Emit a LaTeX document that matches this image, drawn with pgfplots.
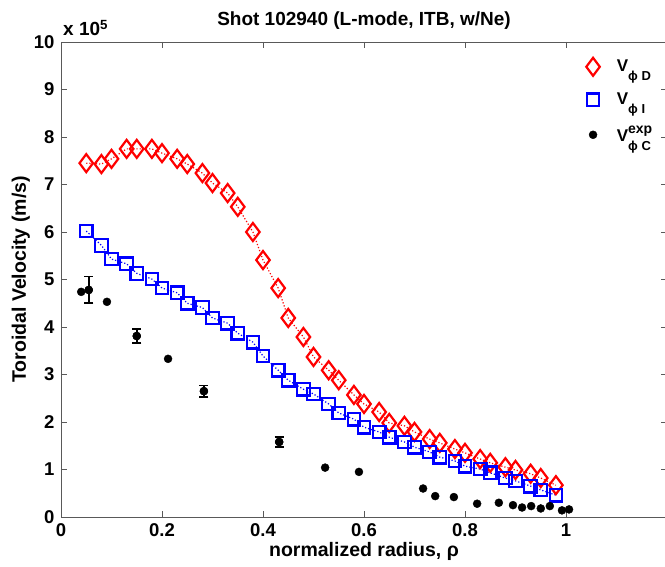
\documentclass[border=0pt]{standalone}
\usepackage{fontspec}
\setmainfont{Liberation Sans}
\usepackage{pgfplots}
\pgfplotsset{compat=1.18}
\newcommand{\Vsub}[1]{V\raisebox{-9pt}{\fontsize{13}{13}\selectfont #1}}
\newcommand{\Vsubsup}[2]{V\rlap{\raisebox{8pt}{\fontsize{14}{14}\selectfont #1}}\raisebox{-9pt}{\fontsize{13}{13}\selectfont #2}}
\pgfplotstableread{
x y
0.05 7.45
0.08 7.43
0.10 7.54
0.13 7.75
0.15 7.75
0.18 7.75
0.20 7.66
0.23 7.54
0.25 7.43
0.28 7.24
0.30 7.03
0.33 6.82
0.35 6.53
0.38 6.00
0.40 5.41
0.43 4.82
0.45 4.19
0.48 3.79
0.50 3.37
0.53 3.09
0.55 2.88
0.58 2.57
0.60 2.38
0.63 2.21
0.65 1.98
0.68 1.92
0.70 1.79
0.73 1.64
0.75 1.56
0.78 1.43
0.80 1.35
0.83 1.22
0.85 1.14
0.88 1.05
0.90 0.99
0.93 0.91
0.95 0.82
0.98 0.67
}\vd
\pgfplotstableread{
x y
0.05 6.02
0.08 5.72
0.10 5.43
0.13 5.33
0.15 5.13
0.18 5.01
0.20 4.82
0.23 4.72
0.25 4.50
0.28 4.41
0.30 4.19
0.33 4.08
0.35 3.87
0.38 3.68
0.40 3.39
0.43 3.09
0.45 2.88
0.48 2.69
0.50 2.59
0.53 2.38
0.55 2.19
0.58 2.06
0.60 1.89
0.63 1.79
0.65 1.68
0.68 1.58
0.70 1.47
0.73 1.37
0.75 1.26
0.78 1.18
0.80 1.07
0.83 1.01
0.85 0.93
0.88 0.82
0.90 0.76
0.93 0.65
0.95 0.57
0.98 0.46
}\vi
\pgfplotstableread{
x y
0.040 4.74
0.055 4.78
0.091 4.53
0.150 3.81
0.212 3.33
0.283 2.65
0.432 1.58
0.523 1.04
0.590 0.95
0.717 0.60
0.741 0.44
0.778 0.42
0.824 0.28
0.867 0.30
0.895 0.25
0.913 0.20
0.931 0.23
0.950 0.18
0.968 0.23
0.992 0.14
1.006 0.16
}\vc
\pgfplotstableread{
x y e
0.055 4.78 0.28
0.150 3.81 0.15
0.283 2.65 0.12
0.432 1.58 0.10
}\vce
\begin{document}
\fontsize{19}{22}\selectfont\bfseries
\begin{tikzpicture}
\begin{axis}[
  scale only axis, width=606pt, height=475pt,
  xmin=0, xmax=1.2, ymin=0, ymax=10,
  xtick={0,0.2,0.4,0.6,0.8,1}, xticklabels={0,0.2,0.4,0.6,0.8,1},
  ytick={0,1,...,10},
  tick align=inside, major tick length=6pt,
  axis line style={black!65, line width=0.9pt},
  every tick/.style={black!65, line width=0.9pt},
  /pgf/number format/assume math mode=true,
  tick label style={font=\fontsize{18.5}{20}\selectfont\bfseries},
  title={Shot 102940 (L-mode, ITB, w/Ne)},
  title style={font=\fontsize{19}{22}\selectfont\bfseries, yshift=0pt},
  xlabel={normalized radius, ρ},
  ylabel={Toroidal Velocity (m/s)},
  label style={font=\fontsize{19.5}{22}\selectfont\bfseries},
  xlabel style={yshift=7pt},
  ylabel style={yshift=-9pt},
  legend style={at={(0.982,0.972)}, anchor=north east, draw=none, fill=none,
    font=\fontsize{17}{20}\selectfont\bfseries, row sep=14.5pt,
    /tikz/every odd column/.append style={column sep=15pt}},
  legend cell align=left,
]
\coordinate (SW) at (rel axis cs:0,0);
\coordinate (NE) at (rel axis cs:1,1);
\addplot[red, dotted, line width=1.2pt, forget plot] table {\vd};
\addplot[blue, dotted, line width=1.2pt, forget plot] table {\vi};
\addplot[only marks, mark=diamond, mark size=9pt, mark options={draw=red, line width=2.2pt, fill=none}] table {\vd};
\addlegendentry{\Vsub{ϕ D}}
\addplot[only marks, mark=square, mark size=6.3pt, mark options={draw=blue, line width=2.2pt, fill=none}] table {\vi};
\addlegendentry{\Vsub{ϕ I}}
\addplot[only marks, mark=*, mark size=4pt, mark options={draw=black, fill=black}] table {\vc};
\addlegendentry{\Vsubsup{exp}{ϕ C}}
\addplot[only marks, mark=*, mark size=4pt, black, forget plot,
  error bars/.cd, y dir=both, y explicit,
  error bar style={line width=1.6pt, black},
  error mark options={rotate=90, mark size=4.5pt, line width=1.6pt, black}]
  table[x=x, y=y, y error=e] {\vce};
\end{axis}
\node[anchor=south west, inner sep=0pt] at ([shift={(2pt,6pt)}]NE -| SW) {x 10\textsuperscript{5}};
\pgfresetboundingbox
\path[use as bounding box] ([shift={(-61pt,-49pt)}]SW) rectangle ([shift={(-2pt,42pt)}]NE);
\end{tikzpicture}
\end{document}
